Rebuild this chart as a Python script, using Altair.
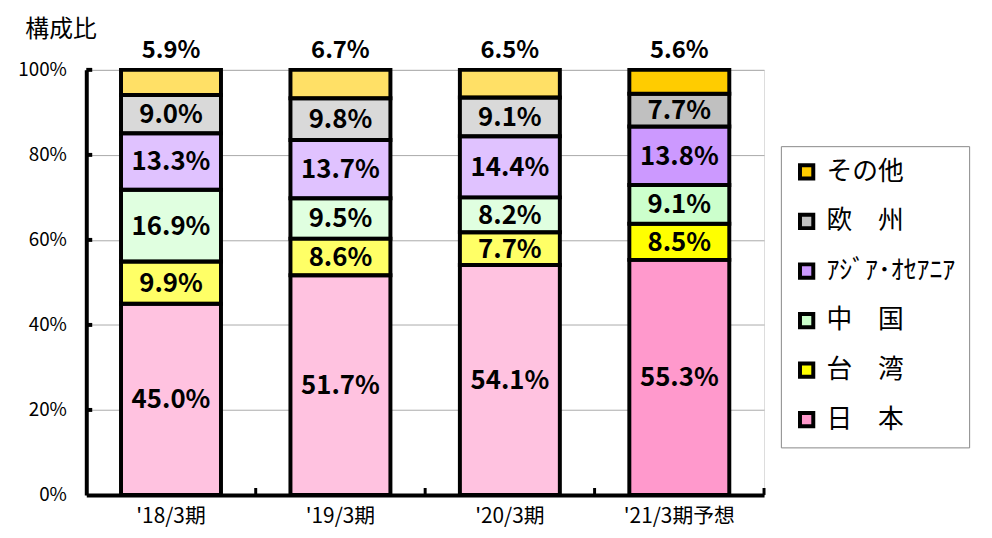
import altair as alt
import pandas as pd

categories = ["'18/3期", "'19/3期", "'20/3期", "'21/3期予想"]
forecast = [False, False, False, True]
regions = ["日　本", "台　湾", "中　国", "ｱｼﾞｱ･ｵｾｱﾆｱ", "欧　州", "その他"]
colors = ["#FF99CC", "#FFFF00", "#CCFFCC", "#CC99FF", "#C0C0C0", "#FFCC00"]

japan = [45.0, 51.7, 54.1, 55.3]
taiwan = [9.9, 8.6, 7.7, 8.5]
china = [16.9, 9.5, 8.2, 9.1]
asia = [13.3, 13.7, 14.4, 13.8]
europe = [9.0, 9.8, 9.1, 7.7]
other = [5.9, 6.7, 6.5, 5.6]
series = [japan, taiwan, china, asia, europe, other]

yticks = [0, 20, 40, 60, 80, 100]

rows = []
for ri, (reg, vals) in enumerate(zip(regions, series)):
    for ci, cat in enumerate(categories):
        rows.append({"cat": cat, "region": reg, "idx": ri, "value": vals[ci],
                     "fc": forecast[ci]})
df = pd.DataFrame(rows)

FONT = "Noto Sans CJK JP"
W, H = 684, 429
STEP = W / 4.0

xenc = alt.X("cat:N", sort=categories,
             scale=alt.Scale(paddingInner=0.41, paddingOuter=0.205),
             axis=alt.Axis(title=None, labelAngle=0, labelFontSize=21, labelColor="black",
                           labelPadding=11, ticks=False, domainColor="black",
                           domainWidth=4, grid=False, labelFont=FONT))
yscale = alt.Scale(domain=[0, 100], nice=False)
yaxis = alt.Axis(values=yticks, labelExpr="datum.value + '%'", labelFontSize=19,
                 labelColor="black", labelPadding=20, ticks=False, domainColor="black",
                 domainWidth=4, gridColor="#AAAAAA", gridWidth=1, title="構成比",
                 titleAngle=0, titleX=-26, titleY=-41, titleAlign="center",
                 titleBaseline="middle", titleFontSize=24, titleFontWeight="normal",
                 titleColor="black", labelFont=FONT, titleFont=FONT)

base = alt.Chart(df)

under = base.mark_bar(color="white", strokeWidth=0).encode(
    x=xenc,
    y=alt.Y("value:Q", stack="zero", scale=yscale, axis=yaxis),
    order=alt.Order("idx:Q", sort="ascending"),
)

bars = base.mark_bar(stroke="black", strokeWidth=4).encode(
    x=alt.X("cat:N", sort=categories),
    y=alt.Y("value:Q", stack="zero"),
    order=alt.Order("idx:Q", sort="ascending"),
    fill=alt.Fill("region:N",
                  scale=alt.Scale(domain=regions[::-1], range=colors[::-1]),
                  legend=alt.Legend(orient="none", legendX=701, legendY=77, title=None,
                                    symbolType="square", symbolSize=180,
                                    symbolStrokeColor="black", symbolStrokeWidth=4,
                                    symbolOpacity=1, labelFontSize=26, labelFont=FONT,
                                    labelColor="black", rowPadding=20, padding=13,
                                    labelOffset=7, fillColor="white",
                                    strokeColor="#888888", labelLimit=300)),
    fillOpacity=alt.condition("datum.fc", alt.value(1.0), alt.value(0.6)),
)

stacked = base.transform_stack(
    stack="value", groupby=["cat"], sort=[alt.SortField("idx", order="ascending")],
    as_=["y0", "y1"]
).transform_calculate(
    mid="(datum.y0 + datum.y1) / 2",
    label="format(datum.value, '.1f') + '%'",
)

inner = stacked.transform_filter("datum.idx < 5").mark_text(
    font=FONT, fontSize=26, fontWeight="bold", color="black", baseline="middle", dy=1
).encode(x=alt.X("cat:N", sort=categories), y=alt.Y("mid:Q"), text="label:N")

top = stacked.transform_filter("datum.idx == 5").mark_text(
    font=FONT, fontSize=24, fontWeight="bold", color="black", baseline="alphabetic", dy=-12
).encode(x=alt.X("cat:N", sort=categories), y=alt.Y("y1:Q"), text="label:N")

tickdf = pd.DataFrame({"v": yticks[1:]})
yt = alt.Chart(tickdf).mark_rule(color="black", strokeWidth=4).encode(
    y="v:Q", x=alt.value(0), x2=alt.value(6))

xt = alt.Chart(pd.DataFrame({"cat": categories})).mark_rule(
    color="black", strokeWidth=3, xOffset=STEP / 2).encode(
    x=alt.X("cat:N", sort=categories), y=alt.value(H), y2=alt.value(H - 7))

chart = alt.layer(under, bars, yt, xt, inner, top).properties(
    width=W, height=H,
    autosize=alt.AutoSizeParams(type="none"),
    padding={"left": 79, "top": 60, "right": 222, "bottom": 40},
).configure_view(stroke="#999999", strokeWidth=2).configure(font=FONT)

chart.save("out.html", embed_options={"renderer": "svg", "actions": False})
